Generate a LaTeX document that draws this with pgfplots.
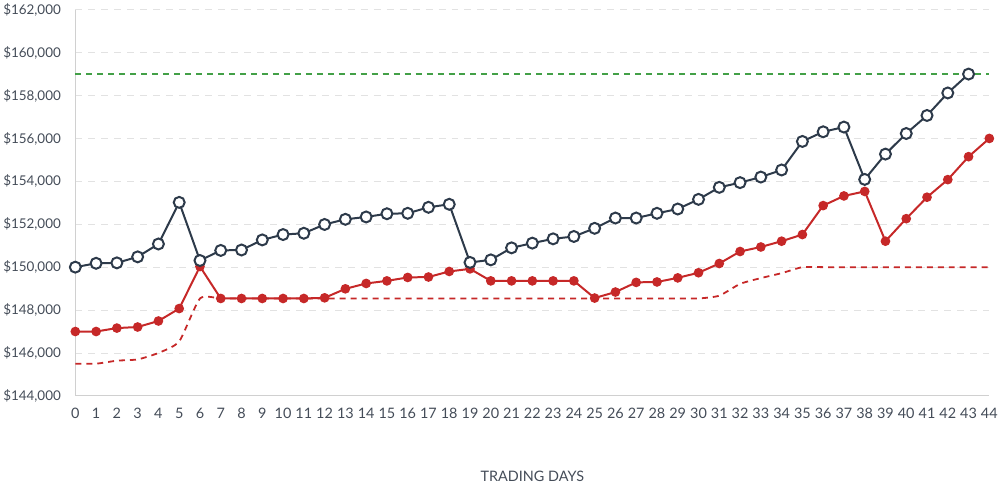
\documentclass[border=0pt]{standalone}
\usepackage{pgfplots}
\pgfplotsset{compat=1.18}
\usepackage{fontspec}
\setmainfont{Lato}
\definecolor{darkline}{HTML}{2D3A4A}
\definecolor{redline}{HTML}{C62828}
\definecolor{greenline}{HTML}{43A047}
\definecolor{gridc}{HTML}{E2E2E2}
\definecolor{axc}{HTML}{D0D0D0}
\definecolor{txt}{HTML}{444C58}
\begin{document}
\begin{tikzpicture}
\begin{axis}[
  scale only axis,
  width=916bp, height=387bp,
  xmin=0, xmax=44, ymin=144000, ymax=162000,
  axis x line*=bottom, axis y line*=left,
  axis line style={axc, line width=0.8bp, -},
  xtick={0,...,44},
  ytick={144000,146000,...,162000},
  major tick length=0pt,
  ymajorgrids,
  grid style={gridc, dash pattern=on 7bp off 6bp, line width=0.8bp},
  /pgf/number format/assume math mode=true,
  yticklabel={\$\pgfmathprintnumber[fixed,1000 sep={,}]{\tick}},
  scaled y ticks=false,
  yticklabel style={font=\fontsize{13.5}{15}\selectfont, text=txt, xshift=-11bp},
  xticklabel style={font=\fontsize{14.5}{16}\selectfont, text=txt, yshift=-9bp},
  xlabel={TRADING DAYS},
  xlabel style={at={(axis description cs:0.5,0)}, anchor=center, yshift=-81bp, font=\fontsize{14.5}{16}\selectfont, text=txt},
  clip=false,
]
% green target
\addplot[greenline, line width=1.8bp, dash pattern=on 6bp off 5bp] coordinates {(0,159000) (44,159000)};
% red dashed (smooth)
\addplot[redline, line width=1.8bp, dash pattern=on 6bp off 5bp, smooth, tension=0.35] coordinates {
(0,145500) (1,145500) (2,145640) (3,145700) (4,146000) (5,146540) (6,148540) (7,148540)
(8,148540) (9,148540) (10,148540) (11,148540) (12,148540) (13,148540) (14,148540) (15,148540)
(16,148540) (17,148540) (18,148540) (19,148540) (20,148540) (21,148540) (22,148540) (23,148540)
(24,148540) (25,148540) (26,148540) (27,148540) (28,148540) (29,148540) (30,148540) (31,148670)
(32,149220) (33,149490) (34,149720) (35,150000) (36,150000) (37,150000) (38,150000) (39,150000)
(40,150000) (41,150000) (42,150000) (43,150000) (44,150000)};
% red actual
\addplot[redline, line width=2bp, mark=*, mark size=3.8bp, mark options={fill=redline, draw=redline}] coordinates {
(0,147000) (1,147000) (2,147160) (3,147210) (4,147490) (5,148070) (6,150030) (7,148540)
(8,148540) (9,148540) (10,148540) (11,148540) (12,148570) (13,148990) (14,149240) (15,149360)
(16,149520) (17,149540) (18,149800) (19,149920) (20,149360) (21,149360) (22,149360) (23,149360)
(24,149360) (25,148560) (26,148840) (27,149290) (28,149310) (29,149500) (30,149740) (31,150170)
(32,150730) (33,150940) (34,151210) (35,151520) (36,152870) (37,153320) (38,153530) (39,151210)
(40,152260) (41,153260) (42,154080) (43,155150) (44,156000)};
% dark line
\addplot[darkline, line width=2bp, mark=*, mark size=5.5bp, mark options={fill=white, draw=darkline, line width=2bp}] coordinates {
(0,150000) (1,150180) (2,150200) (3,150480) (4,151080) (5,153020) (6,150310) (7,150780)
(8,150800) (9,151270) (10,151520) (11,151580) (12,151990) (13,152230) (14,152340) (15,152490)
(16,152510) (17,152790) (18,152930) (19,150220) (20,150340) (21,150900) (22,151120) (23,151320)
(24,151430) (25,151810) (26,152290) (27,152290) (28,152510) (29,152710) (30,153160) (31,153720)
(32,153940) (33,154200) (34,154530) (35,155860) (36,156310) (37,156530) (38,154090) (39,155270)
(40,156230) (41,157070) (42,158120) (43,159000)};
\end{axis}
\path ([shift={(-74bp,-105bp)}]current axis.south west) rectangle ([shift={(11bp,6bp)}]current axis.north east);
\end{tikzpicture}
\end{document}
